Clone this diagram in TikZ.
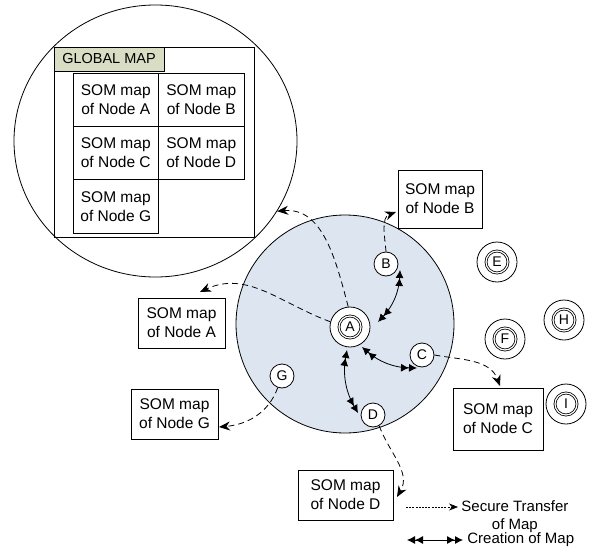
\documentclass[tikz,border=0pt]{standalone}
\usepackage{fontspec}
\setmainfont{Liberation Sans}
\usetikzlibrary{arrows.meta,automata,positioning,shapes.geometric}

\definecolor{zonefill}{RGB}{221,229,241}
\definecolor{titlefill}{RGB}{216,221,196}

\tikzset{
  small/.style={state,minimum size=24pt,inner sep=0pt,fill=white,font=\fontsize{14}{14}\selectfont},
  site/.style={state,minimum size=40pt,inner sep=0pt,fill=white},
  core/.style={circle,draw,double,double distance=1.2pt,minimum size=22pt,inner sep=0pt,font=\fontsize{14}{14}\selectfont},
  mapbox/.style={draw,align=center,fill=white,inner sep=0pt,outer sep=0pt,font=\fontsize{15.5}{19}\selectfont},
  cell/.style={mapbox,minimum width=85.5pt,minimum height=53.3pt},
  transfer/.style={dash pattern=on 6pt off 4pt,-{Stealth[length=11pt,width=9pt]}},
  creation/.style={{Latex[length=8pt,width=8pt]Latex[length=8pt,width=8pt]}-{Latex[length=8pt,width=8pt]Latex[length=8pt,width=8pt]}}
}

\begin{document}
\begin{tikzpicture}[x=1pt,y=1pt,line width=0.8pt]
\useasboundingbox (0,0) rectangle (593,558);

% global map
\node[ellipse,draw,minimum width=283pt,minimum height=272pt] (global) at (155.5,417) {};
\node[draw,minimum width=200pt,minimum height=190pt,outer sep=0pt] (gframe) at (154,416) {};
\node[draw,fill=titlefill,anchor=north west,minimum width=110pt,minimum height=24pt,inner sep=0pt,outer sep=0pt,font=\fontsize{14.5}{16}\selectfont] (gtitle) at (gframe.north west) {GLOBAL MAP};
\node[cell] (gA) at (115.75,458.3) {SOM map\\of Node A};
\node[cell] (gB) [right=0pt of gA] {SOM map\\of Node B};
\node[cell] (gC) [below=0pt of gA] {SOM map\\of Node C};
\node[cell] (gD) [right=0pt of gC] {SOM map\\of Node D};
\node[cell] (gG) [below=0pt of gC] {SOM map\\of Node G};

% zone and nodes
\node[circle,draw,fill=zonefill,minimum size=218pt,inner sep=0pt] (zone) at (345,234) {};

\node[site,label={[core]center:A}] (A) at (350,231) {};
\node[small] (B) at (386,294) {B};
\node[small] (C) at (422,203) {C};
\node[small] (D) at (373,143) {D};
\node[small] (G) at (282,182) {G};

\node[site,label={[core]center:E}] (E) at (497,296) {};
\node[site,label={[core]center:F}] (F) at (505,219) {};
\node[site,label={[core]center:H}] (H) at (564,238) {};
\node[site,label={[core]center:I}] (I) at (566,154) {};

% maps
\node[mapbox,minimum width=87pt,minimum height=50pt] (mA) at (181.5,235) {SOM map\\of Node A};
\node[mapbox,minimum width=84pt,minimum height=58pt] (mB) at (440,359) {SOM map\\of Node B};
\node[mapbox,minimum width=90pt,minimum height=62pt] (mC) at (498,139) {SOM map\\of Node C};
\node[mapbox,minimum width=95pt,minimum height=50pt] (mD) at (345.5,63) {SOM map\\of Node D};
\node[mapbox,minimum width=87pt,minimum height=50pt] (mG) at (174.5,144) {SOM map\\of Node G};

% secure transfer
\path[transfer] (A.95) edge[out=105,in=5] (global.-30)
  (A.165) edge[out=160,in=25] ([xshift=18.5pt,yshift=6pt]mA.north)
  (B.north) edge[out=95,in=200] ([xshift=-2pt,yshift=-13pt]mB.west)
  (C.east) edge[out=-10,in=110] ([xshift=2pt,yshift=2pt]mC.north)
  (G.-110) edge[out=-110,in=5] ([xshift=1pt,yshift=-13pt]mG.east)
  (D.-60) edge[out=-70,in=60] ([xshift=4pt,yshift=-2pt]mD.east);

% creation of maps
\draw[creation] ([shift={(28pt,5pt)}]A.center) to[bend right=20] ([shift={(14pt,-6pt)}]B.center);
\draw[creation] ([shift={(12pt,-20pt)}]A.center) to[bend right=20] ([shift={(-5pt,-13pt)}]C.center);
\draw[creation] ([shift={(-3pt,-23pt)}]A.center) to[bend right=20] ([shift={(-15pt,2pt)}]D.center);

% legend
\coordinate (s0) at (406,51);
\node[align=center,anchor=north west,inner sep=0pt,font=\fontsize{15}{18}\selectfont] (secure) at (461,58) {Secure Transfer\\of Map};
\draw[dash pattern=on 2pt off 1.2pt,line width=0.6pt,-{Stealth[length=9pt,width=7pt]}] (s0) -- ([xshift=-3pt]s0 -| secure.west);
\coordinate (c0) at (407,18);
\node[anchor=west,inner sep=0pt,font=\fontsize{15}{18}\selectfont] (create) at (467,18) {Creation of Map};
\draw[creation] (c0) -- ([xshift=-4pt]create.west);
\end{tikzpicture}
\end{document}
